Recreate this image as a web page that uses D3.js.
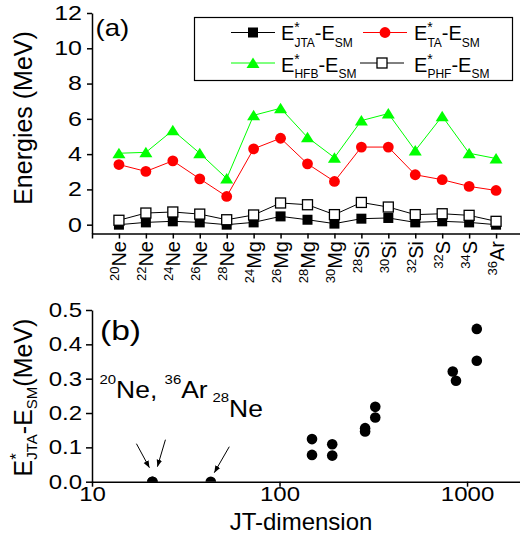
<!DOCTYPE html>
<html>
<head>
<meta charset="utf-8">
<script src="https://cdn.jsdelivr.net/npm/d3@7"></script>
<style>
  body { margin: 0; background: #fff; }
  text { font-family: "Liberation Sans", Arial, sans-serif; fill: #000; }
</style>
</head>
<body>
<script>
// ---- data: panel (a)
var massNumbers = ["20", "22", "24", "26", "28", "24", "26", "28", "30", "28", "30", "32", "32", "34", "36"];
var elements = ["Ne", "Ne", "Ne", "Ne", "Ne", "Mg", "Mg", "Mg", "Mg", "Si", "Si", "Si", "S", "S", "Ar"];
var eJTA = [0.0, 0.13, 0.19, 0.13, 0.0, 0.13, 0.47, 0.28, 0.06, 0.34, 0.38, 0.13, 0.19, 0.13, 0.0];
var eTA = [3.41, 3.02, 3.62, 2.6, 1.6, 4.3, 4.9, 3.45, 2.45, 4.4, 4.4, 2.83, 2.55, 2.17, 1.94];
var eHFB = [4.05, 4.1, 5.35, 4.05, 2.62, 6.2, 6.6, 4.95, 3.8, 5.9, 6.3, 4.2, 6.15, 4.05, 3.75];
var ePHF = [0.25, 0.66, 0.72, 0.6, 0.28, 0.55, 1.23, 1.13, 0.57, 1.26, 1.0, 0.57, 0.62, 0.53, 0.19];
var yTicksTop = [0, 2, 4, 6, 8, 10, 12];

// ---- data: panel (b)
var jtDimension = [21, 21, 43, 149, 149, 191, 191, 286, 286, 324, 324, 839, 873, 1127, 1127];
var jtaDiff = [0, 0, 0, 0.124, 0.078, 0.109, 0.076, 0.156, 0.146, 0.218, 0.187, 0.321, 0.294, 0.445, 0.352];
var yTicksBottom = [0, 0.1, 0.2, 0.3, 0.4, 0.5];
var xTicksBottom = [10, 100, 1000];

var svg = d3.select("body").append("svg")
  .attr("width", 520)
  .attr("height", 544);

// text helper: tspans, optional rotation and horizontal stretch
function addText(parent, x, y, parts, o) {
  o = o || {};
  var tf = "translate(" + x + "," + y + ")";
  if (o.rotate) tf += " rotate(" + o.rotate + ")";
  if (o.kx) tf += " scale(" + o.kx + ",1)";
  var t = parent.append("text")
    .attr("transform", tf)
    .attr("text-anchor", o.anchor || "start");
  parts.forEach(function (p) {
    t.append("tspan")
      .attr("font-size", p.size)
      .attr("dx", p.dx || 0)
      .attr("dy", p.dy || 0)
      .text(p.t);
  });
  return t;
}

function styleAxis(g) {
  g.selectAll("path, line").attr("stroke", "#000").attr("stroke-width", 1.5);
}

// marker helpers
function squares(g, pts, filled) {
  g.selectAll(null).data(pts).enter().append("rect")
    .attr("x", function (d) { return d[0] - 5; })
    .attr("y", function (d) { return d[1] - 5; })
    .attr("width", 10).attr("height", 10)
    .attr("fill", filled ? "#000" : "#fff")
    .attr("stroke", "#000")
    .attr("stroke-width", filled ? 0 : 1.3);
}
function circles(g, pts, color, r) {
  g.selectAll(null).data(pts).enter().append("circle")
    .attr("cx", function (d) { return d[0]; })
    .attr("cy", function (d) { return d[1]; })
    .attr("r", r)
    .attr("fill", color);
}
function triangles(g, pts, color) {
  g.selectAll(null).data(pts).enter().append("path")
    .attr("d", function (d) {
      return "M" + d[0] + "," + (d[1] - 5.5) + "L" + (d[0] + 6.5) + "," + (d[1] + 5) + "L" + (d[0] - 6.5) + "," + (d[1] + 5) + "Z";
    })
    .attr("fill", color);
}

// ================= panel (a) =================
var xA = d3.scaleLinear().domain([0, 16]).range([92, 523]);
var yA = d3.scaleLinear().domain([-0.5, 12]).range([233.5, 13]);
var idx = d3.range(1, elements.length + 1);

var gA = svg.append("g");

// axes
var yAxA = gA.append("g").attr("transform", "translate(92,0)");
yAxA.call(d3.axisLeft(yA).tickValues(d3.range(1, 12, 2)).tickSize(2.5).tickFormat(""));
yAxA.call(d3.axisLeft(yA).tickValues(yTicksTop).tickSize(5).tickSizeOuter(0).tickPadding(5));
styleAxis(yAxA);
yAxA.selectAll("text")
  .attr("font-size", 20)
  .attr("x", -10 / 1.25)
  .attr("transform", "scale(1.25,1)");

var xAxA = gA.append("g").attr("transform", "translate(0,233.5)");
xAxA.call(d3.axisBottom(xA).tickValues(d3.range(0, 17)).tickSize(5).tickSizeOuter(0).tickFormat(""));
styleAxis(xAxA);

// isotope labels (rotated)
idx.forEach(function (i, k) {
  addText(gA, xA(i) + 7.5, 241, [
    { t: massNumbers[k], size: 13, dy: -7 },
    { t: elements[k], size: 20, dy: 7 }
  ], { rotate: -90, anchor: "end" });
});

addText(gA, 31.7, 118, [{ t: "Energies (MeV)", size: 25 }], { rotate: -90, anchor: "middle" });
addText(gA, 95.5, 36, [{ t: "(a)", size: 23 }], { kx: 1.2 });

// series
var line = d3.line().x(function (d) { return d[0]; }).y(function (d) { return d[1]; });
function pts(vals) { return vals.map(function (v, k) { return [xA(idx[k]), yA(v)]; }); }

var series = [
  { vals: eJTA, color: "#000", draw: function (g, p) { squares(g, p, true); } },
  { vals: eTA, color: "#ff0000", draw: function (g, p) { circles(g, p, "#ff0000", 5.4); } },
  { vals: eHFB, color: "#00ff00", draw: function (g, p) { triangles(g, p, "#00ff00"); } },
  { vals: ePHF, color: "#000", draw: function (g, p) { squares(g, p, false); } }
];
series.forEach(function (s) {
  var g = gA.append("g");
  var p = pts(s.vals);
  g.append("path").attr("d", line(p)).attr("fill", "none").attr("stroke", s.color).attr("stroke-width", 1);
  s.draw(g, p);
});

// legend
var leg = gA.append("g");
leg.append("rect").attr("x", 194.5).attr("y", 17.5).attr("width", 318).attr("height", 63)
  .attr("fill", "#fff").attr("stroke", "#000").attr("stroke-width", 1.2);
var legItems = [
  { sub: "JTA", x: 231, y: 32.5, textX: 281, base: 40, i: 0 },
  { sub: "TA", x: 363, y: 32.5, textX: 414, base: 40, i: 1 },
  { sub: "HFB", x: 231, y: 63, textX: 281, base: 71.5, i: 2 },
  { sub: "PHF", x: 360, y: 63, textX: 414, base: 71.5, i: 3 }
];
legItems.forEach(function (it) {
  var s = series[it.i];
  leg.append("line").attr("x1", it.x).attr("x2", it.x + 44).attr("y1", it.y).attr("y2", it.y)
    .attr("stroke", s.color).attr("stroke-width", 1);
  s.draw(leg, [[it.x + 22, it.y]]);
  addText(leg, it.textX, it.base, [
    { t: "E", size: 20 },
    { t: "*", size: 14, dy: -8 },
    { t: it.sub, size: 12, dx: -5.4, dy: 14.7 },
    { t: "-E", size: 20, dy: -6.7 },
    { t: "SM", size: 12, dy: 6.7 }
  ]);
});

// ================= panel (b) =================
var xB = d3.scaleLog().domain([10, 2000]).range([92, 523.5]);
var yB = d3.scaleLinear().domain([0, 0.5]).range([481.7, 310]);
var gB = svg.append("g");

svg.append("clipPath").attr("id", "clipB")
  .append("rect").attr("x", 92).attr("y", 290).attr("width", 430).attr("height", 481.7 - 290);

var dots = gB.append("g").attr("clip-path", "url(#clipB)");
dots.selectAll("circle").data(jtDimension).enter().append("circle")
  .attr("cx", function (d) { return xB(d); })
  .attr("cy", function (d, i) { return yB(jtaDiff[i]); })
  .attr("r", 5.3)
  .attr("fill", "#000");

var yAxB = gB.append("g").attr("transform", "translate(92,0)");
yAxB.call(d3.axisLeft(yB).tickValues(d3.range(0.05, 0.5, 0.1)).tickSize(3).tickFormat(""));
yAxB.call(d3.axisLeft(yB).tickValues(yTicksBottom).tickSize(6).tickSizeOuter(0).tickPadding(4).tickFormat(d3.format(".1f")));
styleAxis(yAxB);
yAxB.selectAll("text")
  .attr("font-size", 20)
  .attr("x", -10 / 1.2)
  .attr("transform", "scale(1.2,1)");

var minorB = [];
[10, 100, 1000].forEach(function (dec) {
  d3.range(2, 10).forEach(function (m) { if (dec * m <= 2000) minorB.push(dec * m); });
});
var xAxB = gB.append("g").attr("transform", "translate(0,481.7)");
xAxB.call(d3.axisBottom(xB).tickValues(minorB).tickSize(3).tickFormat(""));
xAxB.call(d3.axisBottom(xB).tickValues(xTicksBottom).tickSize(5).tickSizeOuter(0).tickPadding(0).tickFormat(d3.format("d")));
styleAxis(xAxB);
xAxB.selectAll("text")
  .attr("font-size", 20)
  .attr("transform", "scale(1.2,1)")
  .attr("x", function () { return d3.select(this.parentNode).datum() ? 0 : 0; });
// keep labels centred on ticks after the stretch
xAxB.selectAll(".tick").each(function (d) {
  d3.select(this).select("text").attr("transform", "scale(1.2,1)");
});

addText(gB, 301, 530, [{ t: "JT-dimension", size: 24 }], { anchor: "middle" });
addText(gB, 31.7, 397.5, [
  { t: "E", size: 25 },
  { t: "*", size: 17, dy: -10 },
  { t: "JTA", size: 15, dx: -6.6, dy: 15.5 },
  { t: "-E", size: 25, dy: -5.5 },
  { t: "SM", size: 15, dy: 5.5 },
  { t: "(MeV)", size: 25, dy: -5.5 }
], { rotate: -90, anchor: "middle" });

addText(gB, 100, 340, [{ t: "(b)", size: 28 }], { kx: 1.2 });
addText(gB, 99.5, 398.3, [
  { t: "20", size: 13, dy: -14 },
  { t: "Ne, ", size: 23, dy: 14 },
  { t: "36", size: 13, dy: -14 },
  { t: "Ar", size: 23, dy: 14 }
], { kx: 1.15 });
addText(gB, 212.5, 417, [
  { t: "28", size: 13, dy: -15 },
  { t: "Ne", size: 23, dy: 15 }
], { kx: 1.15 });

// arrows pointing at the zero points (offsets relative to the dot)
var arrows = [
  { at: 21, from: [-16, -38], to: [-3, -14] },
  { at: 21, from: [13, -42], to: [5, -15] },
  { at: 43, from: [18.5, -35], to: [3.5, -9] }
];
svg.append("defs").append("marker")
  .attr("id", "head").attr("viewBox", "0 0 10 10").attr("refX", 10).attr("refY", 5)
  .attr("markerWidth", 7).attr("markerHeight", 7).attr("markerUnits", "userSpaceOnUse")
  .attr("orient", "auto")
  .append("path").attr("d", "M0,1L10,5L0,9Z").attr("fill", "#000");
arrows.forEach(function (a) {
  var cx = xB(a.at), cy = yB(0);
  gB.append("line")
    .attr("x1", cx + a.from[0]).attr("y1", cy + a.from[1])
    .attr("x2", cx + a.to[0]).attr("y2", cy + a.to[1])
    .attr("stroke", "#000").attr("stroke-width", 1)
    .attr("marker-end", "url(#head)");
});
</script>
</body>
</html>
